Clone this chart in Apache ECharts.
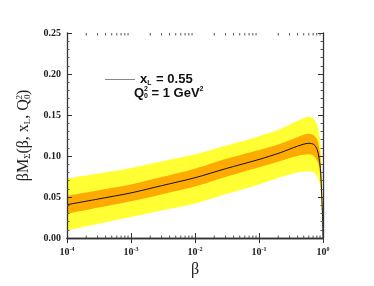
<!DOCTYPE html>
<html><head><meta charset="utf-8">
<script src="https://cdn.jsdelivr.net/npm/echarts@6/dist/echarts.min.js"></script>
<style>html,body{margin:0;padding:0;background:#fff}#c{width:374px;height:286px}</style>
</head><body><div id="c"></div>
<script>
var beta        = [1e-4, 3e-4, 1e-3, 3e-3, 1e-2, 0.03, 0.1, 0.215, 0.4, 0.6, 0.72, 0.81, 0.86, 0.91, 0.945, 0.98, 1.0];
var central     = [0.0406, 0.0474, 0.0550, 0.0638, 0.0735, 0.0845, 0.0958, 0.1040, 0.1120, 0.1155, 0.1140, 0.1080, 0.0990, 0.0850, 0.0610, 0.0300, 0.0];
var orangeLow   = [0.0296, 0.0368, 0.0447, 0.0532, 0.0627, 0.0743, 0.0862, 0.0940, 0.1000, 0.1020, 0.1000, 0.0940, 0.0880, 0.0730, 0.0500, 0.0250, 0.0];
var orangeHigh  = [0.0516, 0.0580, 0.0652, 0.0743, 0.0845, 0.0962, 0.1072, 0.1150, 0.1230, 0.1270, 0.1250, 0.1200, 0.1120, 0.1000, 0.0700, 0.0350, 0.0];
var yellowLow   = [0.0093, 0.0171, 0.0256, 0.0335, 0.0420, 0.0533, 0.0652, 0.0740, 0.0800, 0.0810, 0.0800, 0.0750, 0.0700, 0.0610, 0.0400, 0.0200, 0.0];
var yellowHigh  = [0.0723, 0.0786, 0.0855, 0.0933, 0.1020, 0.1125, 0.1242, 0.1330, 0.1430, 0.1480, 0.1450, 0.1380, 0.1300, 0.1140, 0.0810, 0.0400, 0.0];
var yTicks = [0, 0.05, 0.10, 0.15, 0.20, 0.25];
var decades = [1e-4, 1e-3, 1e-2, 1e-1];

function pairs(ys){ return beta.map(function(b,i){ return [b, ys[i]]; }); }
var minorPos = [];
decades.forEach(function(d){ for (var k=2;k<=9;k++) minorPos.push([+(d*k).toPrecision(3)]); });

var serif = 'Liberation Serif';
var chart = echarts.init(document.getElementById('c'));
var axisLine = {lineStyle:{color:'#333', width:1.3}};
var sm = 0.3;
function area(name, ys, color, z){
  return {name:name, type:'line', data:pairs(ys), smooth:sm, symbol:'none',
    lineStyle:{width:0}, areaStyle:{color:color, opacity:1, origin:'start'}, z:z, silent:true};
}
var option = {
  animation:false,
  grid:{left:67, right:51, top:33, bottom:48},
  legend:{
    left:100, top:68, itemWidth:30, itemHeight:10, itemGap:4,
    data:[{name:'center', icon:'path://M0,0L30,0L30,1L0,1Z'}],
    formatter:function(){ return '{t|x}{s|L}{t| = 0.55}'; },
    textStyle:{rich:{
      t:{fontFamily:'Liberation Sans', fontWeight:'bold', fontSize:13, color:'#111'},
      s:{fontFamily:'Liberation Sans', fontWeight:'bold', fontSize:7, color:'#111', padding:[8,1,0,0]}
    }}
  },
  graphic:[{type:'text', left:134, top:86, style:{
    rich:{
      t:{fontFamily:'Liberation Sans', fontWeight:'bold', fontSize:13, fill:'#111'},
      su:{fontFamily:'Liberation Sans', fontWeight:'bold', fontSize:7, fill:'#111', padding:[0,0,8,0]},
      sb:{fontFamily:'Liberation Sans', fontWeight:'bold', fontSize:7, fill:'#111', padding:[6,0,0,-4]}
    },
    text:'{t|Q}{su|2}{sb|0}{t| = 1 GeV}{su|2}'
  }}],
  xAxis:[{
    type:'log', logBase:10, min:1e-4, max:1, position:'bottom', z:10,
    name:'β', nameLocation:'middle', nameGap:24,
    nameTextStyle:{fontFamily:serif, fontSize:16, color:'#222'},
    axisLine:axisLine,
    axisTick:{inside:true, length:5, lineStyle:{color:'#333'}},
    splitLine:{show:false},
    axisLabel:{margin:8, formatter:function(v){
      var e = Math.round(Math.log10(v));
      return '{b|10}{s|' + e + '}';
    }, rich:{
      b:{fontFamily:serif, fontWeight:'bold', fontSize:10, color:'#222'},
      s:{fontFamily:serif, fontWeight:'bold', fontSize:6, color:'#222', padding:[0,0,6,0]}
    }}
  },{
    type:'log', logBase:10, min:1e-4, max:1, position:'top', z:10,
    axisLine:axisLine,
    axisTick:{inside:true, length:5, lineStyle:{color:'#333'}},
    axisLabel:{show:false}, splitLine:{show:false}
  }],
  yAxis:[{
    type:'value', min:0, max:0.25, interval:0.05, position:'left', z:10,
    name:'{t|βM}{s|Σ}{t|(β, x}{s|L}{t|, Q}{s|0}{p|2}{t|)}',
    nameLocation:'middle', nameGap:33, nameRotate:90,
    nameTextStyle:{rich:{
      t:{fontFamily:serif, fontSize:16, color:'#222'},
      s:{fontFamily:serif, fontSize:9, color:'#222', padding:[8,0,0,0]},
      p:{fontFamily:serif, fontSize:9, color:'#222', padding:[0,0,8,-5]}
    }},
    axisLine:axisLine,
    axisTick:{inside:true, length:5, lineStyle:{color:'#333'}},
    minorTick:{show:true, splitNumber:5, length:2.5, lineStyle:{color:'#555'}},
    splitLine:{show:false},
    axisLabel:{margin:6, fontFamily:serif, fontWeight:'bold', fontSize:10, color:'#222',
      formatter:function(v){ return v.toFixed(2); }}
  },{
    type:'value', min:0, max:0.25, interval:0.05, position:'right', z:10,
    axisLine:axisLine,
    axisTick:{inside:true, length:5, lineStyle:{color:'#333'}},
    minorTick:{show:true, splitNumber:5, length:2.5, lineStyle:{color:'#555'}},
    axisLabel:{show:false}, splitLine:{show:false}
  }],
  series:[
    area('yH', yellowHigh, '#ffff33', 1),
    area('oH', orangeHigh, '#ffaa00', 1.1),
    area('oL', orangeLow, '#ffff33', 1.2),
    area('yL', yellowLow, '#ffffff', 1.3),
    {name:'center', type:'line', data:pairs(central), smooth:sm, symbol:'none',
      lineStyle:{color:'#111', width:1}, itemStyle:{color:'#888'}, z:3},
    {name:'minor', type:'custom', data:minorPos, z:11, silent:true, clip:false,
      renderItem:function(params, api){
        var v = api.value(0);
        var b = api.coord([v, 0]);
        var t = api.coord([v, 0.25]);
        return {type:'group', children:[
          {type:'line', shape:{x1:b[0], y1:b[1], x2:b[0], y2:b[1]-2.5}, style:{stroke:'#555', lineWidth:1}},
          {type:'line', shape:{x1:t[0], y1:t[1], x2:t[0], y2:t[1]+2.5}, style:{stroke:'#555', lineWidth:1}}
        ]};
      }}
  ]
};
chart.setOption(option);
</script></body></html>
